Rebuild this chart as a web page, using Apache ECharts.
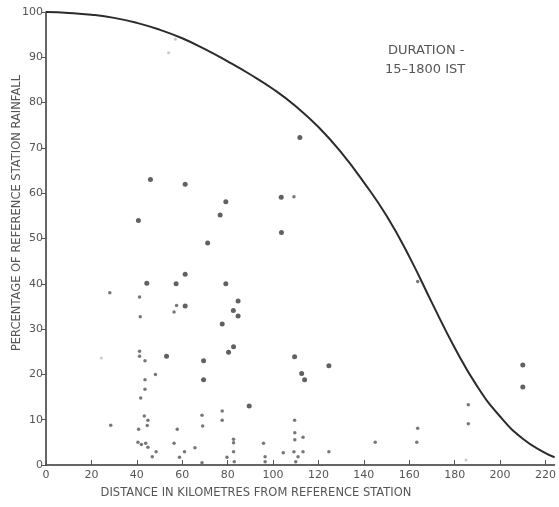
<!DOCTYPE html>
<html>
<head>
<meta charset="utf-8">
<script src="https://cdn.jsdelivr.net/npm/echarts@6/dist/echarts.min.js"></script>
<style>html,body{margin:0;padding:0;background:#fff;}#c{width:559px;height:507px;}</style>
</head>
<body>
<div id="c"></div>
<script>
// Tick labels
const xTicks = [0, 20, 40, 60, 80, 100, 120, 140, 160, 180, 200, 220];
const yTicks = [0, 10, 20, 30, 40, 50, 60, 70, 80, 90, 100];

// Fitted curve (distance km, % of reference station rainfall), read every 10 km
const curve = [[0,100],[10,99.8],[20,99.4],[30,98.7],[40,97.6],[50,96.1],[60,94.2],[70,91.8],[80,89.1],[90,86.2],[100,83.0],[110,79.2],[120,74.6],[130,69.0],[140,62.4],[150,55.0],[160,46.0],[170,35.8],[180,25.9],[190,17.3],[200,10.7],[210,5.8],[220,2.6],[224,1.7]];

// Observations, larger dots
const bigPoints = [[46,63],[61.3,62],[79.2,58.1],[76.7,55.2],[40.7,54],[71.2,49],[111.8,72.3],[103.6,59.1],[103.7,51.3],[61.3,42.1],[57.3,40],[79.2,40],[44.4,40.1],[84.6,36.2],[82.5,34.1],[84.6,32.9],[61.3,35.1],[77.6,31.1],[82.6,26.1],[80.4,24.9],[69.4,23],[69.4,18.8],[53.1,24],[89.5,13],[109.5,23.9],[112.6,20.2],[113.9,18.8],[124.6,21.9],[210,22.1],[210,17.2]];

// Observations, smaller dots
const smallPoints = [[109.2,59.2],[57.5,35.2],[56.4,33.8],[28.1,38],[41.2,37.1],[41.5,32.7],[41.2,25.1],[41.2,24],[43.6,23],[48.2,20],[43.6,18.8],[43.6,16.7],[41.7,14.8],[28.5,8.8],[43.3,10.8],[44.9,9.9],[44.6,8.7],[40.8,7.9],[40.5,5],[42,4.5],[43.9,4.8],[44.9,3.9],[48.5,2.9],[46.8,1.8],[77.6,11.9],[77.6,9.9],[68.7,11],[69,8.6],[57.8,7.9],[56.4,4.8],[65.6,3.8],[61,2.9],[58.8,1.7],[68.7,0.5],[79.7,1.7],[82.6,5.7],[82.6,4.9],[82.6,2.9],[82.9,0.7],[95.8,4.8],[96.5,1.8],[96.5,0.7],[104.5,2.7],[109.5,9.9],[109.6,7.1],[109.6,5.6],[113.2,6.1],[109.2,2.9],[111,1.8],[110,0.7],[113.2,2.9],[124.6,2.9],[145,5],[163.3,5],[163.7,8.1],[186,13.3],[186,9.1],[163.7,40.5]];

// Faint marks
const faintPoints = [[57,94],[54,91],[24.4,23.6],[185,1.1]];

const FONT = 'DejaVu Sans';
const TXT = '#555';
const chart = echarts.init(document.getElementById('c'), null, {renderer: 'canvas'});
chart.setOption({
  backgroundColor: '#fff',
  animation: false,
  grid: {left: 46, top: 12, right: 2, bottom: 42},
  xAxis: {
    type: 'value', min: 0, max: 224, interval: 20,
    axisLine: {lineStyle: {color: '#333', width: 1.5}},
    axisTick: {inside: true, length: 5, customValues: xTicks, lineStyle: {color: '#555'}},
    axisLabel: {customValues: xTicks, color: TXT, fontFamily: FONT, fontSize: 11, margin: 5},
    splitLine: {show: false}
  },
  yAxis: {
    type: 'value', min: 0, max: 100, interval: 10,
    axisLine: {show: true, lineStyle: {color: '#333', width: 1.5}},
    axisTick: {show: true, length: 5, customValues: yTicks, lineStyle: {color: '#555'}},
    axisLabel: {customValues: yTicks, color: TXT, fontFamily: FONT, fontSize: 11, margin: 3},
    splitLine: {show: false}
  },
  graphic: [
    {type: 'text', left: 388, top: 44, style: {text: 'DURATION -', fill: TXT, font: '13px "DejaVu Sans"'}},
    {type: 'text', left: 385, top: 63, style: {text: '15\u20131800 IST', fill: TXT, font: '13px "DejaVu Sans"'}},
    {type: 'text', x: 256, y: 493, style: {text: 'DISTANCE IN KILOMETRES FROM REFERENCE STATION', fill: TXT, font: '11.5px "DejaVu Sans"', align: 'center', verticalAlign: 'middle'}},
    {type: 'text', x: 17, y: 213, rotation: Math.PI / 2, style: {text: 'PERCENTAGE OF REFERENCE STATION RAINFALL', fill: TXT, font: '11.5px "DejaVu Sans"', align: 'center', verticalAlign: 'middle'}}
  ],
  series: [
    {type: 'line', data: curve, smooth: 0.5, showSymbol: false, clip: false,
     lineStyle: {color: '#2b2b2b', width: 2}, z: 3},
    {type: 'scatter', data: bigPoints, symbolSize: 5, itemStyle: {color: '#3a3a3a'}},
    {type: 'scatter', data: smallPoints, symbolSize: 3.5, itemStyle: {color: '#555'}},
    {type: 'scatter', data: faintPoints, symbolSize: 3, itemStyle: {color: '#bbb'}}
  ]
});
</script>
</body>
</html>
